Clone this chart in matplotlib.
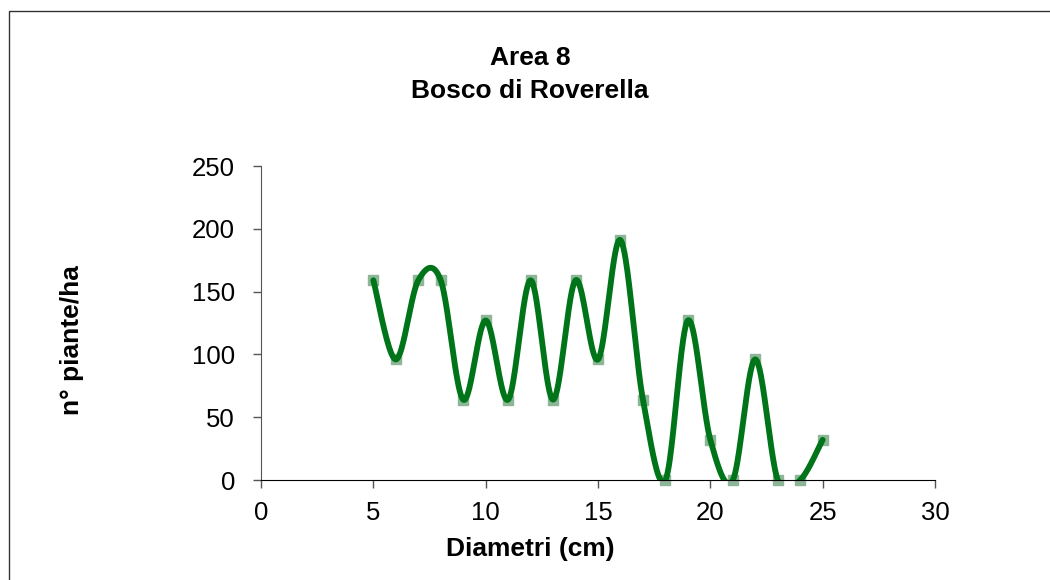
import matplotlib
matplotlib.use("Agg")
import matplotlib.pyplot as plt
import numpy as np
from matplotlib.patches import Rectangle

plt.rcParams['font.family'] = ['Liberation Sans', 'DejaVu Sans']

# data
diametri = [5, 6, 7, 8, 9, 10, 11, 12, 13, 14, 15, 16, 17, 18, 19, 20, 21, 22, 23, 24, 25]
piante = [159, 96, 159, 159, 64, 127, 64, 159, 64, 159, 96, 191, 64, 0, 127, 32, 0, 96, 0, 0, 32]
x_ticks = [0, 5, 10, 15, 20, 25, 30]
y_ticks = [0, 50, 100, 150, 200, 250]

W, H = 1050, 580


def smooth_line(x, y, n=40):
    """Excel-like smoothed line (Catmull-Rom via cubic Bezier)."""
    x = np.asarray(x, float)
    y = np.asarray(y, float)
    px = np.concatenate([[x[0]], x, [x[-1]]])
    py = np.concatenate([[y[0]], y, [y[-1]]])
    xs, ys = [], []
    t = np.linspace(0, 1, n)
    for i in range(1, len(px) - 2):
        p0 = np.array([px[i], py[i]])
        p3 = np.array([px[i + 1], py[i + 1]])
        c1 = p0 + (np.array([px[i + 1], py[i + 1]]) - np.array([px[i - 1], py[i - 1]])) / 6
        c2 = p3 - (np.array([px[i + 2], py[i + 2]]) - np.array([px[i], py[i]])) / 6
        b = ((1 - t) ** 3)[:, None] * p0 + (3 * (1 - t) ** 2 * t)[:, None] * c1 \
            + (3 * (1 - t) * t ** 2)[:, None] * c2 + (t ** 3)[:, None] * p3
        xs.extend(b[:, 0])
        ys.extend(b[:, 1])
    return np.array(xs), np.array(ys)


fig = plt.figure(figsize=(W / 100, H / 100), dpi=100)
# chart area frame (cropped at right and bottom)
fig.patches.append(Rectangle((9 / W, -0.2), 1.2, 1 - 11 / H + 0.2,
                             transform=fig.transFigure, fill=False,
                             edgecolor='#333333', linewidth=1.0))

ax = fig.add_axes([261 / W, 100 / H, 674 / W, 314 / H])

ax.plot(diametri, piante, linestyle='none', marker='s', markersize=7,
        color='#8db597', clip_on=False, zorder=2)
sx, sy = smooth_line(diametri, piante)
ax.plot(sx, sy, color='#007418', linewidth=4.2, solid_capstyle='round', zorder=3)

ax.set_xlim(0, 30)
ax.set_ylim(0, 250)
ax.set_xticks(x_ticks)
ax.set_yticks(y_ticks)
ax.tick_params(labelsize=18.5, length=5.8, width=1, direction='out',
               color='#555555', labelcolor='#000000')
ax.tick_params(axis='y', pad=13)
ax.tick_params(axis='x', pad=9)
for s in ['top', 'right']:
    ax.spines[s].set_visible(False)
ax.spines['left'].set_color('#555555')
ax.spines['bottom'].set_color('#000000')

# titles centred on the chart area, like Excel
cx = 530 / W
fig.text(cx, 1 - 65 / H, 'Area 8', ha='center', va='baseline',
         fontsize=19, fontweight='bold')
fig.text(cx, 1 - 98 / H, 'Bosco di Roverella', ha='center', va='baseline',
         fontsize=19, fontweight='bold')
fig.text(cx, 1 - 556 / H, 'Diametri (cm)', ha='center', va='baseline',
         fontsize=19, fontweight='bold')
fig.text(72 / W, 1 - 340 / H, 'n° piante/ha', ha='center', va='center',
         rotation=90, fontsize=19, fontweight='bold')

fig.savefig('out.png', dpi=100)
